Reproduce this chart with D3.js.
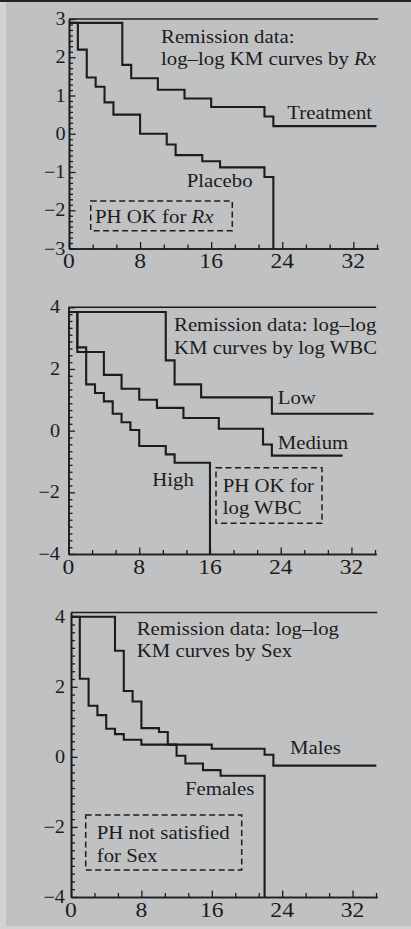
<!DOCTYPE html>
<html><head><meta charset="utf-8">
<script src="https://cdn.jsdelivr.net/npm/d3@7"></script>
<style>html,body{margin:0;padding:0;background:#d2d2d2;} svg{display:block;}</style>
</head><body>
<svg id="c" width="411" height="929"></svg>
<script>
// ---------------- DATA ----------------
const xTickLabels = [0, 8, 16, 24, 32];
const yTicksRx = [-3, -2, -1, 0, 1, 2, 3];
const yTicksWide = [-4, -2, 0, 2, 4];

// Panel 1: log-log KM by Rx
const treatmentTimes  = [0, 6, 7, 10, 13, 16, 22, 23];
const treatmentValues = [2.9, 1.8, 1.45, 1.15, 0.92, 0.7, 0.45, 0.2];
const treatmentEnd = 34.6;
const placeboTimes  = [0, 1, 2, 3, 4, 5, 8, 11, 12, 15, 17, 22, 23];
const placeboValues = [2.9, 2.2, 1.47, 1.23, 0.82, 0.5, 0.0, -0.28, -0.56, -0.72, -0.88, -1.13, -3];
const placeboEnd = 23;

// Panel 2: log-log KM by log WBC
const lowTimes  = [0, 11, 12, 15, 23];
const lowValues = [3.85, 2.28, 1.5, 1.08, 0.55];
const lowEnd = 34.5;
const mediumTimes  = [0, 1, 4, 6, 8, 10, 13, 17, 22, 23];
const mediumValues = [3.85, 2.55, 1.81, 1.36, 1.0, 0.74, 0.41, 0.06, -0.45, -0.81];
const mediumEnd = 31;
const highTimes  = [0, 1, 2, 3, 4, 5, 6, 7, 8, 11, 12, 16];
const highValues = [3.85, 2.7, 1.5, 1.22, 0.95, 0.55, 0.27, 0.02, -0.5, -0.77, -1.04, -4];
const highEnd = 16;

// Panel 3: log-log KM by Sex
const femalesTimes  = [0, 5, 6, 7, 8, 10, 11, 12, 13, 15, 17, 22];
const femalesValues = [4.0, 3.03, 1.88, 1.58, 0.82, 0.71, 0.35, 0.03, -0.19, -0.38, -0.54, -4];
const femalesEnd = 22;
const malesTimes  = [0, 1, 2, 3, 4, 5, 6, 8, 16, 22, 23];
const malesValues = [4.0, 2.23, 1.46, 1.19, 0.8, 0.65, 0.49, 0.35, 0.23, 0.06, -0.25];
const malesEnd = 34.7;

// ---------------- LAYOUT ----------------
const INK = "#1c1c1c";
const FONT = "'Liberation Serif','Times New Roman',serif";
const SX = 1.125;

const svg = d3.select("#c");
svg.append("rect").attr("x", 6).attr("y", 0).attr("width", 405).attr("height", 926).attr("fill", "#c0c1c3");
svg.append("rect").attr("x", 0).attr("y", 0).attr("width", 411).attr("height", 2).attr("fill", "#222");

function series(times, values, end) {
  const pts = times.map((t, i) => [t, values[i]]);
  pts.push([end, values[values.length - 1]]);
  return pts;
}

const panels = [
  {
    xr: [69, 378.2], yDom: [-3, 3], yr: [248.5, 19], yMajor: yTicksRx, minorStep: 1 / 7, labelGap: 3.5,
    curves: [series(treatmentTimes, treatmentValues, treatmentEnd), series(placeboTimes, placeboValues, placeboEnd)],
    box: [90.7, 201, 232.3, 230.7],
    texts: [
      [161, 42.5, [["Remission data:", false]]],
      [161, 65, [["log–log KM curves by ", false], ["Rx", true]]],
      [287.3, 119, [["Treatment", false]]],
      [186.7, 186.7, [["Placebo", false]]],
      [95, 222.7, [["PH OK for ", false], ["Rx", true]]]
    ]
  },
  {
    xr: [68.5, 376.2], yDom: [-4, 4], yr: [554, 307.3], yMajor: yTicksWide, minorStep: 2 / 9, labelGap: 8.5,
    curves: [series(lowTimes, lowValues, lowEnd), series(mediumTimes, mediumValues, mediumEnd), series(highTimes, highValues, highEnd)],
    box: [216, 467.7, 322, 523.3],
    texts: [
      [174, 330.7, [["Remission data: log–log", false]]],
      [174, 354, [["KM curves by log WBC", false]]],
      [277.7, 404, [["Low", false]]],
      [277.7, 448.7, [["Medium", false]]],
      [152.3, 485.7, [["High", false]]],
      [222.7, 492.3, [["PH OK for", false]]],
      [222.7, 514.3, [["log WBC", false]]]
    ]
  },
  {
    xr: [71, 377.2], yDom: [-4, 4.12], yr: [897, 612.5], yMajor: yTicksWide, minorStep: 2 / 9, labelGap: 6,
    curves: [series(femalesTimes, femalesValues, femalesEnd), series(malesTimes, malesValues, malesEnd)],
    box: [85.7, 815, 241.7, 870],
    texts: [
      [136.7, 635, [["Remission data: log–log", false]]],
      [136.7, 656.7, [["KM curves by Sex", false]]],
      [290, 754, [["Males", false]]],
      [185, 795, [["Females", false]]],
      [96.7, 839.3, [["PH not satisfied", false]]],
      [96.7, 861.7, [["for Sex", false]]]
    ]
  }
];

function addText(g, x, y, parts, size, anchor) {
  const t = g.append("text")
    .attr("transform", `translate(${x},${y}) scale(${SX},1)`)
    .attr("font-family", FONT).attr("font-size", size).attr("fill", INK)
    .attr("text-anchor", anchor || "start");
  parts.forEach(([s, it]) => t.append("tspan").attr("font-style", it ? "italic" : "normal").text(s));
  return t;
}

const fmt = v => (v < 0 ? "\u2212" + Math.abs(v) : String(v));

panels.forEach(p => {
  const g = svg.append("g");
  const x = d3.scaleLinear().domain([0, 34.8]).range(p.xr);
  const y = d3.scaleLinear().domain(p.yDom).range(p.yr);

  const yMinor = d3.range(p.yDom[0], p.yMajor[p.yMajor.length - 1] + 1e-6, p.minorStep)
    .filter(v => !p.yMajor.some(m => Math.abs(m - v) < 1e-6));
  const xMinor = d3.range(0, 34.8, 8 / 3).filter(v => !xTickLabels.some(m => Math.abs(m - v) < 1e-6));

  const yMinAx = g.append("g").attr("transform", `translate(${p.xr[0]},0)`)
    .call(d3.axisLeft(y).tickValues(yMinor).tickSize(-4).tickSizeOuter(0).tickFormat(""));
  const yMajAx = g.append("g").attr("transform", `translate(${p.xr[0]},0)`)
    .call(d3.axisLeft(y).tickValues(p.yMajor).tickSize(-6.5).tickSizeOuter(0).tickFormat(""));
  const xMinAx = g.append("g").attr("transform", `translate(0,${p.yr[0]})`)
    .call(d3.axisBottom(x).tickValues(xMinor).tickSize(-4).tickSizeOuter(0).tickFormat(""));
  const xMajAx = g.append("g").attr("transform", `translate(0,${p.yr[0]})`)
    .call(d3.axisBottom(x).tickValues(xTickLabels).tickSize(-6.5).tickSizeOuter(0).tickFormat(""));
  [yMinAx, yMajAx, xMinAx, xMajAx].forEach(a => {
    a.selectAll("path.domain").attr("stroke", INK).attr("stroke-width", 1.6);
    a.selectAll(".tick line").attr("stroke", INK).attr("stroke-width", 1.3);
  });

  g.append("line").attr("x1", p.xr[0]).attr("x2", p.xr[1]).attr("y1", p.yr[1]).attr("y2", p.yr[1])
    .attr("stroke", INK).attr("stroke-width", 1.6);

  p.yMajor.forEach(v => addText(g, p.xr[0] - p.labelGap, y(v) + 6, [[fmt(v), false]], 18, "end"));
  xTickLabels.forEach(v => addText(g, x(v), p.yr[0] + 19.5, [[String(v), false]], 21, "middle"));

  const line = d3.line().x(d => x(d[0])).y(d => y(d[1])).curve(d3.curveStepAfter);
  p.curves.forEach(c => g.append("path").attr("d", line(c)).attr("fill", "none")
    .attr("stroke", INK).attr("stroke-width", 2.1).attr("stroke-linejoin", "miter"));

  const b = p.box;
  g.append("rect").attr("x", b[0]).attr("y", b[1]).attr("width", b[2] - b[0]).attr("height", b[3] - b[1])
    .attr("fill", "none").attr("stroke", INK).attr("stroke-width", 1.5).attr("stroke-dasharray", "6,3.5");

  p.texts.forEach(([tx, ty, parts]) => addText(g, tx, ty, parts, 18.5, "start"));
});
</script>
</body></html>
